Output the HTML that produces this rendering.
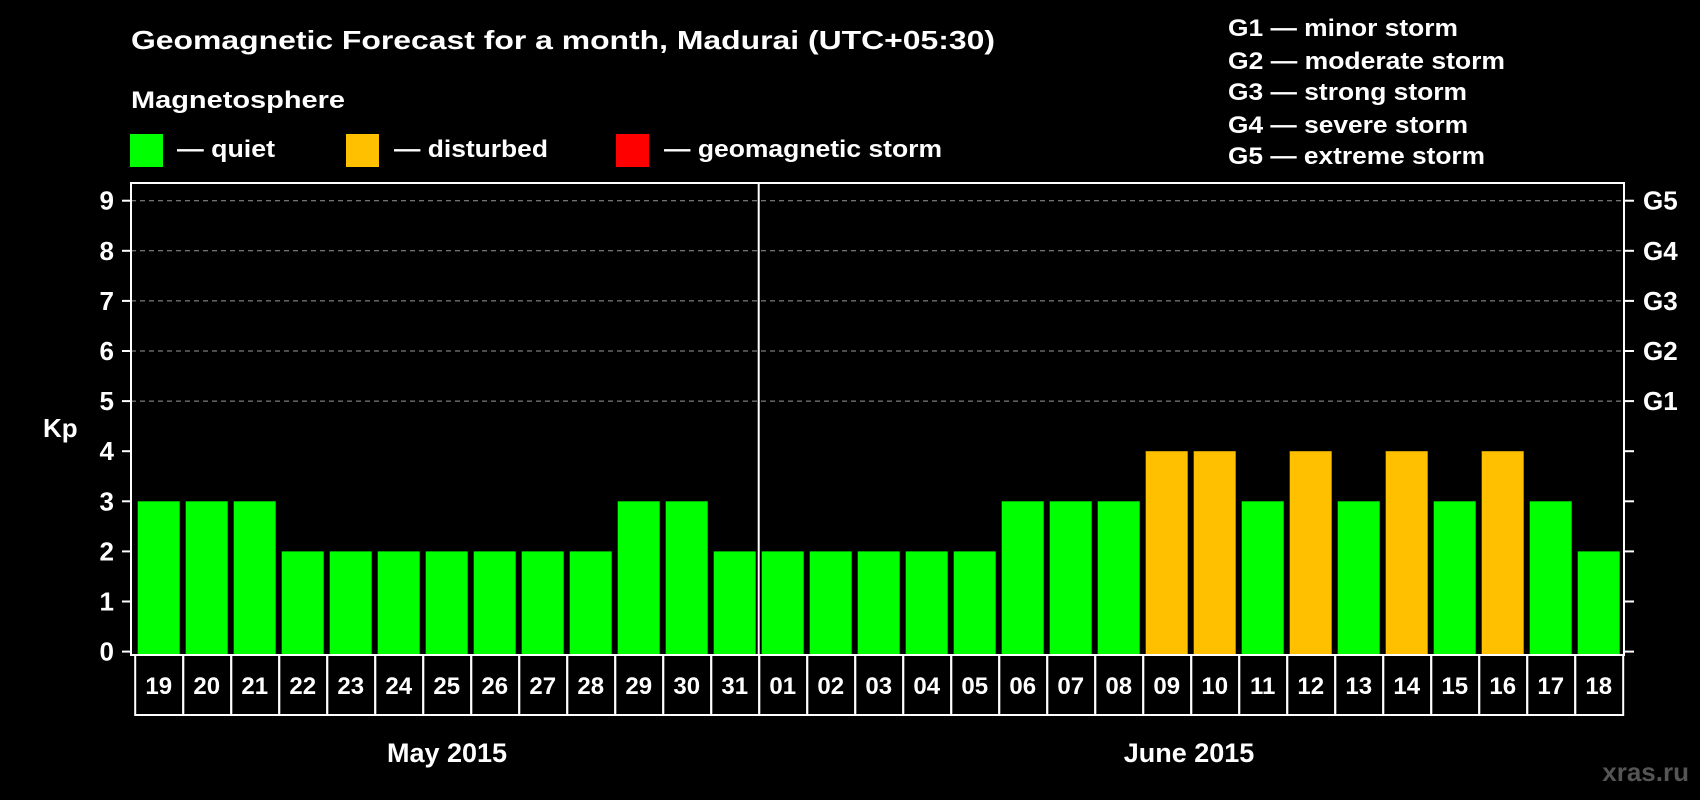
<!DOCTYPE html>
<html><head><meta charset="utf-8"><style>
html,body{margin:0;padding:0;background:#000;}
svg{display:block;font-family:"Liberation Sans",Arial,sans-serif;font-weight:bold;}
</style></head><body>
<svg id="chart" width="1700" height="800" viewBox="0 0 1700 800" xmlns="http://www.w3.org/2000/svg">
<rect width="1700" height="800" fill="#000"/>
<text x="131" y="49" fill="#fff" font-size="26" textLength="864" lengthAdjust="spacingAndGlyphs">Geomagnetic Forecast for a month, Madurai (UTC+05:30)</text>
<text x="131" y="108" fill="#fff" font-size="24" textLength="214" lengthAdjust="spacingAndGlyphs">Magnetosphere</text>
<g>
<rect x="130" y="134" width="33" height="33" fill="#00ff00"/>
<text x="177" y="157" fill="#fff" font-size="24" textLength="98" lengthAdjust="spacingAndGlyphs">— quiet</text></g>
<g>
<rect x="346" y="134" width="33" height="33" fill="#ffc000"/>
<text x="394" y="157" fill="#fff" font-size="24" textLength="154" lengthAdjust="spacingAndGlyphs">— disturbed</text></g>
<g>
<rect x="616" y="134" width="33" height="33" fill="#ff0000"/>
<text x="664" y="157" fill="#fff" font-size="24" textLength="278" lengthAdjust="spacingAndGlyphs">— geomagnetic storm</text></g>
<g fill="#fff" font-size="24">
<text x="1228" y="36" textLength="230" lengthAdjust="spacingAndGlyphs">G1 — minor storm</text>
<text x="1228" y="69" textLength="277" lengthAdjust="spacingAndGlyphs">G2 — moderate storm</text>
<text x="1228" y="100" textLength="239" lengthAdjust="spacingAndGlyphs">G3 — strong storm</text>
<text x="1228" y="133" textLength="240" lengthAdjust="spacingAndGlyphs">G4 — severe storm</text>
<text x="1228" y="164" textLength="257" lengthAdjust="spacingAndGlyphs">G5 — extreme storm</text>
</g>
<text x="43" y="437" fill="#fff" font-size="26">Kp</text>
<g id="grid"></g><g id="bars"></g><g id="axes"></g>
<text x="447" y="762" fill="#fff" font-size="27" text-anchor="middle">May 2015</text>
<text x="1189" y="762" fill="#fff" font-size="27" text-anchor="middle">June 2015</text>
<text x="1689" y="781" fill="#555" font-size="26" text-anchor="end">xras.ru</text>
</svg>
<script>
const days = ["19","20","21","22","23","24","25","26","27","28","29","30","31","01","02","03","04","05","06","07","08","09","10","11","12","13","14","15","16","17","18"];
const kpValues = [3,3,3,2,2,2,2,2,2,2,3,3,2,2,2,2,2,2,3,3,3,4,4,3,4,3,4,3,4,3,2];
const yTicks = [0,1,2,3,4,5,6,7,8,9];
const gLabels = ["","","","","","G1","G2","G3","G4","G5"];
const monthSplit = 13;

const NS="http://www.w3.org/2000/svg";
const L=131,R=1624,T=183,B=655,y0=651.6,unit=50.1,x0=137.7,pitch=48,bw=42;
const y=v=>y0-v*unit;
const x=i=>x0+i*pitch;
function mk(tag,attrs,parent,txt){const e=document.createElementNS(NS,tag);for(const k in attrs)e.setAttribute(k,attrs[k]);if(txt!==undefined)e.textContent=txt;parent.appendChild(e);return e;}
const grid=document.getElementById('grid'),bars=document.getElementById('bars'),axes=document.getElementById('axes');
yTicks.forEach(t=>{
  if(t>=5){const g=mk('line',{x1:L,x2:R,y1:y(t),y2:y(t),stroke:'#999','stroke-width':1,'stroke-dasharray':'5,4'},grid);
  
  }
  const a=mk('line',{x1:L-9,x2:L,y1:y(t),y2:y(t),stroke:'#fff','stroke-width':2},axes);
  
  
  const b=mk('line',{x1:R,x2:R+10,y1:y(t),y2:y(t),stroke:'#fff','stroke-width':2},axes);
  
  
  const lt=mk('text',{x:114,y:y(t)+9,fill:'#fff','font-size':26,'text-anchor':'end'},axes,String(t));
  
  
  if(gLabels[t]){const gt=mk('text',{x:1643,y:y(t)+9,fill:'#fff','font-size':26},axes,gLabels[t]);
  
  }
});
kpValues.forEach((v,i)=>{
  const r=mk('rect',{x:x(i),y:y(v),width:bw,height:B-y(v),fill:v>=5?'#ff0000':(v>=4?'#ffc000':'#00ff00')},bars);
  
  
});
const frame=mk('rect',{x:L,y:T,width:R-L,height:B-T,fill:'none',stroke:'#fff','stroke-width':2},axes);


const dx=x(monthSplit)-3;
const div=mk('line',{x1:dx,x2:dx,y1:T,y2:B,stroke:'#fff','stroke-width':2},axes);


days.forEach((d,i)=>{
  const cx=x(i)+bw/2;
  const c=mk('rect',{x:cx-24+0.5,y:B,width:48,height:60,fill:'none',stroke:'#fff','stroke-width':2},axes);
  
  
  const t=mk('text',{x:cx,y:B+39,fill:'#fff','font-size':24,'text-anchor':'middle'},axes,d);
  
  
});
</script>
</body></html>
